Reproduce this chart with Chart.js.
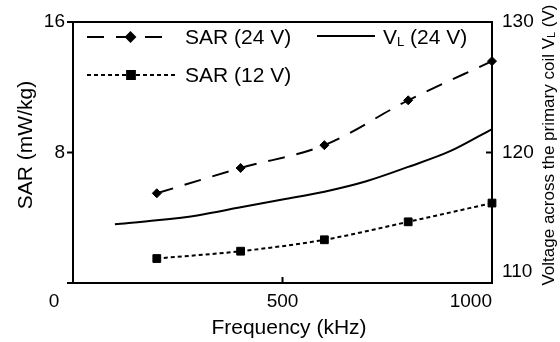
<!DOCTYPE html>
<html>
<head>
<meta charset="utf-8">
<script src="https://cdn.jsdelivr.net/npm/chart.js@4/dist/chart.umd.min.js"></script>
<style>
  body { margin: 0; background: #fff; }
  #wrap { width: 560px; height: 342px; }
</style>
</head>
<body>
<div id="wrap"><canvas id="grafico-sar" width="560" height="342"></canvas></div>
<script>
// data
var freqSAR = [200, 400, 600, 800, 1000];
var sar24 = [5.5, 7.05, 8.45, 11.2, 13.6];
var sar12 = [1.5, 1.95, 2.65, 3.75, 4.9];
var freqVL = [100, 200, 300, 400, 500, 600, 700, 800, 900, 1000];
var vl24 = [114.5, 114.8, 115.2, 115.8, 116.4, 117.0, 117.8, 118.9, 120.1, 121.8];
var xTicks = [0, 500, 1000];
var leftTicks = [0, 8, 16];
var rightTicks = [110, 120, 130];

var FONT = "'Liberation Sans', Arial, sans-serif";

function pts(xs, ys) {
    return xs.map(function (x, i) { return { x: x, y: ys[i] }; });
}

var frame = {
    id: 'frame',
    afterDraw: function (chart) {
        var ctx = chart.ctx, a = chart.chartArea;
        var sx = chart.scales.x, sl = chart.scales.y, sr = chart.scales.y1;
        ctx.save();
        ctx.strokeStyle = '#000';
        ctx.lineWidth = 2;
        ctx.strokeRect(a.left, a.top, a.right - a.left, a.bottom - a.top);
        ctx.beginPath();
        leftTicks.forEach(function (v) {
            var y = sl.getPixelForValue(v);
            ctx.moveTo(a.left - 6, y); ctx.lineTo(a.left, y);
        });
        rightTicks.forEach(function (v) {
            var y = sr.getPixelForValue(v);
            ctx.moveTo(a.right - 6, y); ctx.lineTo(a.right + 1, y);
        });
        xTicks.forEach(function (v) {
            var x = sx.getPixelForValue(v);
            ctx.moveTo(x, a.bottom); ctx.lineTo(x, a.bottom - 6);
        });
        ctx.stroke();

        // tick labels that sit off their usual place
        ctx.fillStyle = '#000';
        ctx.font = '19px ' + FONT;
        ctx.textBaseline = 'middle';
        ctx.textAlign = 'center';
        ctx.fillText(String(xTicks[0]), a.left - 19, a.bottom + 19);
        ctx.fillText(String(xTicks[1]), sx.getPixelForValue(xTicks[1]), a.bottom + 19);
        ctx.textAlign = 'right';
        ctx.fillText(String(xTicks[2]), sx.getPixelForValue(xTicks[2]), a.bottom + 19);
        ctx.textAlign = 'left';
        ctx.fillText(String(rightTicks[0]), a.right + 10, sr.getPixelForValue(rightTicks[0]) - 11);

        // axis titles
        ctx.font = '21px ' + FONT;
        ctx.textAlign = 'center';
        ctx.fillText('Frequency (kHz)', 289, 328);

        ctx.save();
        ctx.translate(26, 145);
        ctx.rotate(-Math.PI / 2);
        ctx.fillText('SAR (mW/kg)', 0, 0);
        ctx.restore();

        ctx.save();
        ctx.translate(549, 145);
        ctx.rotate(-Math.PI / 2);
        var t1 = 'Voltage across the primary coil V', t2 = 'L', t3 = ' (V)';
        ctx.font = '17px ' + FONT;
        var w1 = ctx.measureText(t1).width, w3 = ctx.measureText(t3).width;
        ctx.font = '11px ' + FONT;
        var w2 = ctx.measureText(t2).width;
        var x0 = -(w1 + w2 + w3) / 2;
        ctx.textAlign = 'left';
        ctx.font = '17px ' + FONT;
        ctx.fillText(t1, x0, 0);
        ctx.fillText(t3, x0 + w1 + w2, 0);
        ctx.font = '11px ' + FONT;
        ctx.fillText(t2, x0 + w1, 3);
        ctx.restore();

        // legend
        var ds = chart.data.datasets;
        function sample(d, x1, x2, y) {
            ctx.save();
            ctx.strokeStyle = '#000';
            ctx.lineWidth = d.borderWidth;
            ctx.setLineDash(d.borderDash || []);
            ctx.beginPath();
            ctx.moveTo(x1, y); ctx.lineTo(x2, y);
            ctx.stroke();
            ctx.restore();
            if (d.pointRadius > 0) {
                ctx.fillStyle = '#000';
                Chart.helpers.drawPoint(ctx, { pointStyle: d.pointStyle, radius: d.pointRadius, borderWidth: 1 }, (x1 + x2) / 2, y);
            }
        }
        sample(ds[0], 87, 174, 37);
        sample(ds[1], 87, 175, 75);
        sample(ds[2], 317, 375, 36);
        ctx.font = '21px ' + FONT;
        ctx.textAlign = 'left';
        ctx.fillStyle = '#000';
        ctx.fillText('SAR (24 V)', 185, 38);
        ctx.fillText('SAR (12 V)', 185, 76);
        var wv = ctx.measureText('V').width;
        ctx.fillText('V', 383, 38);
        ctx.font = '13px ' + FONT;
        ctx.fillText('L', 383 + wv, 42);
        var wl = ctx.measureText('L').width;
        ctx.font = '21px ' + FONT;
        ctx.fillText(' (24 V)', 383 + wv + wl, 38);
        ctx.restore();
    }
};

var ctxSar = document.getElementById('grafico-sar').getContext('2d');
var mySarChart = new Chart(ctxSar, {
    type: 'line',
    data: {
        datasets: [
            {
                label: 'SAR (24 V)',
                data: pts(freqSAR, sar24),
                yAxisID: 'y',
                borderColor: '#000',
                backgroundColor: '#000',
                borderWidth: 2,
                borderDash: [17, 12],
                pointStyle: 'rectRot',
                pointRadius: 4.5,
                pointBorderWidth: 1,
                cubicInterpolationMode: 'monotone',
                clip: false
            },
            {
                label: 'SAR (12 V)',
                data: pts(freqSAR, sar12),
                yAxisID: 'y',
                borderColor: '#000',
                backgroundColor: '#000',
                borderWidth: 2,
                borderDash: [4, 3],
                pointStyle: 'rect',
                pointRadius: 5.5,
                pointBorderWidth: 1,
                cubicInterpolationMode: 'monotone',
                clip: false
            },
            {
                label: 'VL (24 V)',
                data: pts(freqVL, vl24),
                yAxisID: 'y1',
                borderColor: '#000',
                backgroundColor: '#000',
                borderWidth: 2,
                pointRadius: 0,
                cubicInterpolationMode: 'monotone',
                clip: false
            }
        ]
    },
    options: {
        responsive: false,
        animation: false,
        layout: { padding: { top: 22 } },
        plugins: {
            legend: { display: false },
            tooltip: { enabled: false }
        },
        scales: {
            x: {
                type: 'linear',
                min: 0,
                max: 1000,
                ticks: { display: false },
                grid: { display: false, drawTicks: false },
                border: { display: false },
                afterFit: function (s) { s.height = 59; }
            },
            y: {
                position: 'left',
                min: 0,
                max: 16,
                ticks: {
                    stepSize: 8,
                    padding: 8,
                    color: '#000',
                    font: { family: FONT, size: 19 },
                    callback: function (v) { return v === 0 ? '' : v; }
                },
                grid: { display: false, drawTicks: false },
                border: { display: false },
                afterFit: function (s) { s.width = 73; }
            },
            y1: {
                position: 'right',
                min: 110,
                max: 130,
                ticks: {
                    stepSize: 10,
                    padding: 10,
                    color: '#000',
                    font: { family: FONT, size: 19 },
                    callback: function (v) { return v === 110 ? '' : v; }
                },
                grid: { display: false, drawTicks: false },
                border: { display: false },
                afterFit: function (s) { s.width = 68; }
            }
        }
    },
    plugins: [frame]
});
</script>
</body>
</html>
